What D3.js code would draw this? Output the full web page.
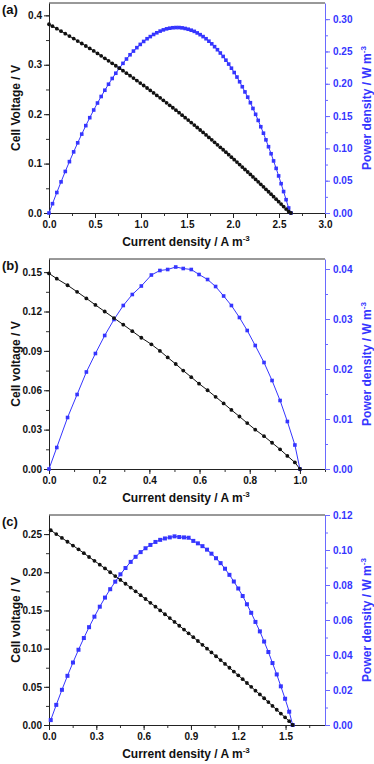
<!DOCTYPE html>
<html>
<head>
<meta charset="utf-8">
<script src="https://cdn.jsdelivr.net/npm/d3@7/dist/d3.min.js"></script>
<style>
body { margin: 0; background: #fff; }
svg { display: block; font-family: "Liberation Sans", Arial, sans-serif; font-weight: bold; }
</style>
</head>
<body>
<script>
// panel (a) data
var aCurrent = [0, 0.038, 0.085, 0.131, 0.177, 0.222, 0.268, 0.312, 0.356, 0.400, 0.443, 0.486, 0.527, 0.567, 0.607, 0.647, 0.687,
    0.726, 0.765, 0.804, 0.842, 0.881, 0.918, 0.955, 0.992, 1.029, 1.066, 1.101, 1.137, 1.172, 1.208, 1.243,
    1.278, 1.312, 1.346, 1.380, 1.414, 1.447, 1.480, 1.513, 1.546, 1.579, 1.611, 1.643, 1.675, 1.707, 1.738,
    1.769, 1.800, 1.831, 1.862, 1.893, 1.923, 1.953, 1.983, 2.013, 2.043, 2.072, 2.101, 2.130, 2.160, 2.189,
    2.217, 2.246, 2.274, 2.302, 2.331, 2.358, 2.386, 2.414, 2.441, 2.469, 2.496, 2.523, 2.550, 2.577, 2.605, 2.630];
var aVoltage = [0.382, 0.378, 0.373, 0.368, 0.363, 0.358, 0.353, 0.348, 0.343, 0.338, 0.333, 0.328, 0.323, 0.318, 0.313, 0.308, 0.303,
    0.298, 0.293, 0.288, 0.283, 0.278, 0.273, 0.268, 0.263, 0.258, 0.253, 0.248, 0.243, 0.238, 0.233, 0.228,
    0.223, 0.218, 0.213, 0.208, 0.203, 0.198, 0.193, 0.188, 0.183, 0.178, 0.173, 0.168, 0.163, 0.158, 0.153,
    0.148, 0.143, 0.138, 0.133, 0.128, 0.123, 0.118, 0.113, 0.108, 0.103, 0.098, 0.093, 0.088, 0.083, 0.078,
    0.073, 0.068, 0.063, 0.058, 0.053, 0.048, 0.043, 0.038, 0.033, 0.028, 0.023, 0.018, 0.013, 0.008, 0.003, 0];
var aPower = [0, 0.0144, 0.0317, 0.0482, 0.0643, 0.0795, 0.0946, 0.1086, 0.1221, 0.1352, 0.1475, 0.1594, 0.1702, 0.1803, 0.1900, 0.1993, 0.2082,
    0.2163, 0.2241, 0.2316, 0.2383, 0.2449, 0.2506, 0.2559, 0.2609, 0.2655, 0.2697, 0.2730, 0.2763, 0.2789, 0.2815, 0.2834,
    0.2850, 0.2860, 0.2867, 0.2870, 0.2870, 0.2865, 0.2856, 0.2844, 0.2829, 0.2811, 0.2787, 0.2760, 0.2730, 0.2697, 0.2659,
    0.2618, 0.2574, 0.2527, 0.2476, 0.2423, 0.2365, 0.2305, 0.2241, 0.2174, 0.2104, 0.2031, 0.1954, 0.1874, 0.1793, 0.1707,
    0.1618, 0.1527, 0.1433, 0.1335, 0.1235, 0.1132, 0.1026, 0.0917, 0.0806, 0.0691, 0.0574, 0.0454, 0.0332, 0.0206, 0.0078, 0];

// panel (b) data
var bCurrent = [0, 0.031, 0.074, 0.112, 0.149, 0.185, 0.222, 0.259, 0.296, 0.332, 0.368, 0.408, 0.442, 0.473, 0.505, 0.535,
    0.567, 0.598, 0.632, 0.664, 0.696, 0.727, 0.759, 0.790, 0.822, 0.857, 0.889, 0.921, 0.950, 0.980, 1.000];
var bVoltage = [0.149, 0.145, 0.140, 0.135, 0.130, 0.125, 0.120, 0.115, 0.110, 0.105, 0.100, 0.095, 0.090, 0.085, 0.080, 0.075,
    0.070, 0.065, 0.060, 0.055, 0.050, 0.045, 0.040, 0.035, 0.030, 0.025, 0.020, 0.015, 0.010, 0.005, 0];
var bPower = [0, 0.0043, 0.0103, 0.0149, 0.0194, 0.0231, 0.0267, 0.0299, 0.0327, 0.0349, 0.0366, 0.0388, 0.0397, 0.0399, 0.0404, 0.0401,
    0.0399, 0.0389, 0.0379, 0.0365, 0.0346, 0.0327, 0.0303, 0.0277, 0.0247, 0.0213, 0.0177, 0.0137, 0.0095, 0.0048, 0];

// panel (c) data
var cCurrent = [0.011, 0.046, 0.082, 0.117, 0.152, 0.187, 0.221, 0.254, 0.288, 0.322, 0.355, 0.388, 0.420, 0.453, 0.485, 0.518,
    0.549, 0.581, 0.612, 0.643, 0.675, 0.705, 0.735, 0.766, 0.796, 0.826, 0.856, 0.885, 0.915, 0.944, 0.973,
    1.002, 1.030, 1.059, 1.088, 1.116, 1.144, 1.172, 1.200, 1.228, 1.255, 1.282, 1.309, 1.337, 1.364, 1.391,
    1.417, 1.444, 1.470, 1.497, 1.523, 1.545];
var cVoltage = [0.255, 0.250, 0.245, 0.240, 0.235, 0.230, 0.225, 0.220, 0.215, 0.210, 0.205, 0.200, 0.195, 0.190, 0.185, 0.180,
    0.175, 0.170, 0.165, 0.160, 0.155, 0.150, 0.145, 0.140, 0.135, 0.130, 0.125, 0.120, 0.115, 0.110, 0.105,
    0.100, 0.095, 0.090, 0.085, 0.080, 0.075, 0.070, 0.065, 0.060, 0.055, 0.050, 0.045, 0.040, 0.035, 0.030,
    0.025, 0.020, 0.015, 0.010, 0.005, 0];
var cPower = [0.0028, 0.0115, 0.0201, 0.0281, 0.0357, 0.0430, 0.0497, 0.0559, 0.0619, 0.0676, 0.0728, 0.0776, 0.0819, 0.0861, 0.0897, 0.0932,
    0.0961, 0.0988, 0.1010, 0.1029, 0.1046, 0.1058, 0.1066, 0.1072, 0.1078, 0.1074, 0.1072, 0.1070, 0.1052, 0.1038, 0.1022,
    0.1002, 0.0979, 0.0953, 0.0925, 0.0893, 0.0858, 0.0820, 0.0780, 0.0737, 0.0690, 0.0641, 0.0589, 0.0535, 0.0477, 0.0417,
    0.0354, 0.0289, 0.0221, 0.0150, 0.0076, 0];

// tick values
var aXTicks = [0, 0.5, 1.0, 1.5, 2.0, 2.5, 3.0];
var aVTicks = [0, 0.1, 0.2, 0.3, 0.4];
var aPTicks = [0, 0.05, 0.10, 0.15, 0.20, 0.25, 0.30];
var bXTicks = [0, 0.2, 0.4, 0.6, 0.8, 1.0];
var bVTicks = [0, 0.03, 0.06, 0.09, 0.12, 0.15];
var bPTicks = [0, 0.01, 0.02, 0.03, 0.04];
var cXTicks = [0, 0.3, 0.6, 0.9, 1.2, 1.5];
var cVTicks = [0, 0.05, 0.10, 0.15, 0.20, 0.25];
var cPTicks = [0, 0.02, 0.04, 0.06, 0.08, 0.10, 0.12];

var width = 374, height = 764;
var blue = "#3535ff";

var svg = d3.select("body").append("svg")
    .attr("width", width)
    .attr("height", height);

var panels = [
    {tag: "(a)", top: 3, bottom: 213, I: aCurrent, V: aVoltage, P: aPower,
     xMax: 3.0, vMax: 0.425, pMax: 0.325, xTicks: aXTicks, vTicks: aVTicks, pTicks: aPTicks,
     xFmt: ".1f", vFmt: ".1f", pFmt: ".2f", vTitle: "Cell Voltage / V", sq: 3.6},
    {tag: "(b)", top: 259, bottom: 469, I: bCurrent, V: bVoltage, P: bPower,
     xMax: 1.1, vMax: 0.16, pMax: 0.042, xTicks: bXTicks, vTicks: bVTicks, pTicks: bPTicks,
     xFmt: ".1f", vFmt: ".2f", pFmt: ".2f", vTitle: "Cell voltage / V", sq: 3.6},
    {tag: "(c)", top: 515, bottom: 725, I: cCurrent, V: cVoltage, P: cPower,
     xMax: 1.75, vMax: 0.275, pMax: 0.12, xTicks: cXTicks, vTicks: cVTicks, pTicks: cPTicks,
     xFmt: ".1f", vFmt: ".2f", pFmt: ".2f", vTitle: "Cell voltage / V", sq: 4}
];

var left = 49, right = 325;

// midpoints between labelled ticks become the minor ticks
function minors(ticks) {
    var out = [];
    for (var i = 0; i < ticks.length; i++) {
        out.push(ticks[i]);
        if (i < ticks.length - 1) out.push((ticks[i] + ticks[i + 1]) / 2);
    }
    return out;
}

panels.forEach(drawPanel);

function drawPanel(p) {
    var g = svg.append("g");
    var x = d3.scaleLinear().domain([0, p.xMax]).range([left, right]);
    var yV = d3.scaleLinear().domain([0, p.vMax]).range([p.bottom, p.top]);
    var yP = d3.scaleLinear().domain([0, p.pMax]).range([p.bottom, p.top]);

    var xMinor = minors(p.xTicks);
    if (p.tag === "(c)") xMinor.push(1.65);
    if (p.tag === "(b)") xMinor.push(1.1);

    // top border
    g.append("line").attr("x1", left).attr("x2", right).attr("y1", p.top).attr("y2", p.top)
        .attr("stroke", "#333").attr("stroke-width", 1);

    // minor ticks
    g.append("g").attr("transform", "translate(0," + p.bottom + ")")
        .call(d3.axisBottom(x).tickValues(xMinor).tickSize(3).tickFormat("").tickSizeOuter(0))
        .call(function(s){ s.select(".domain").remove(); s.selectAll("line").attr("stroke", "#333"); });
    g.append("g").attr("transform", "translate(" + left + ",0)")
        .call(d3.axisLeft(yV).tickValues(minors(p.vTicks)).tickSize(3).tickFormat("").tickSizeOuter(0))
        .call(function(s){ s.select(".domain").remove(); s.selectAll("line").attr("stroke", "#333"); });
    g.append("g").attr("transform", "translate(" + right + ",0)")
        .call(d3.axisRight(yP).tickValues(minors(p.pTicks)).tickSize(3).tickFormat("").tickSizeOuter(0))
        .call(function(s){ s.select(".domain").remove(); s.selectAll("line").attr("stroke", "#6a6aff"); });

    // major axes
    var xAx = g.append("g").attr("transform", "translate(0," + p.bottom + ")")
        .call(d3.axisBottom(x).tickValues(p.xTicks).tickFormat(d3.format(p.xFmt)).tickSize(5).tickPadding(3).tickSizeOuter(0));
    xAx.select(".domain").attr("stroke", "#222");
    xAx.selectAll("line").attr("stroke", "#222");
    xAx.selectAll("text").attr("font-size", 10).attr("font-weight", "bold").attr("fill", "#111")
        .attr("font-family", "Liberation Sans, Arial, sans-serif");

    var vAx = g.append("g").attr("transform", "translate(" + left + ",0)")
        .call(d3.axisLeft(yV).tickValues(p.vTicks).tickFormat(d3.format(p.vFmt)).tickSize(5).tickPadding(2).tickSizeOuter(0));
    vAx.select(".domain").attr("stroke", "#222");
    vAx.selectAll("line").attr("stroke", "#222");
    vAx.selectAll("text").attr("font-size", 10).attr("font-weight", "bold").attr("fill", "#111")
        .attr("font-family", "Liberation Sans, Arial, sans-serif");

    var pAx = g.append("g").attr("transform", "translate(" + right + ",0)")
        .call(d3.axisRight(yP).tickValues(p.pTicks).tickFormat(d3.format(p.pFmt)).tickSize(5).tickPadding(3).tickSizeOuter(0));
    pAx.select(".domain").attr("stroke", "#6a6aff");
    pAx.selectAll("line").attr("stroke", "#6a6aff");
    pAx.selectAll("text").attr("font-size", 10).attr("font-weight", "bold").attr("fill", blue)
        .attr("font-family", "Liberation Sans, Arial, sans-serif");

    // titles
    var xt = g.append("text").attr("x", 186).attr("y", p.bottom + 33)
        .attr("text-anchor", "middle").attr("font-size", 12).attr("fill", "#111")
        .text("Current density / A m");
    xt.append("tspan").attr("dy", -5).attr("font-size", 8).text("-3");

    var mid = (p.top + p.bottom) / 2;
    g.append("text").attr("transform", "translate(20," + mid + ") rotate(-90)")
        .attr("text-anchor", "middle").attr("font-size", 12).attr("fill", "#111")
        .text(p.vTitle);

    var pt = g.append("text").attr("transform", "translate(371," + mid + ") rotate(-90)")
        .attr("text-anchor", "middle").attr("font-size", 12).attr("fill", blue)
        .text("Power density / W m");
    pt.append("tspan").attr("dy", -5).attr("font-size", 8).text("-3");

    g.append("text").attr("x", 2).attr("y", p.top + 11).attr("font-size", 13).attr("fill", "#111")
        .text(p.tag);

    var idx = d3.range(p.I.length);

    // power density series
    var lineP = d3.line().x(function(i){ return x(p.I[i]); }).y(function(i){ return yP(p.P[i]); });
    g.append("path").datum(idx).attr("d", lineP)
        .attr("fill", "none").attr("stroke", blue).attr("stroke-width", 1);
    g.selectAll(".sq").data(idx).enter().append("rect")
        .attr("class", "sq")
        .attr("x", function(i){ return x(p.I[i]) - p.sq / 2; })
        .attr("y", function(i){ return yP(p.P[i]) - p.sq / 2; })
        .attr("width", p.sq).attr("height", p.sq)
        .attr("fill", blue);

    // cell voltage series
    var lineV = d3.line().x(function(i){ return x(p.I[i]); }).y(function(i){ return yV(p.V[i]); });
    g.append("path").datum(idx).attr("d", lineV)
        .attr("fill", "none").attr("stroke", "#111").attr("stroke-width", 1);
    g.selectAll(".dot").data(idx).enter().append("circle")
        .attr("class", "dot")
        .attr("cx", function(i){ return x(p.I[i]); })
        .attr("cy", function(i){ return yV(p.V[i]); })
        .attr("r", 1.9)
        .attr("fill", "#111");
}
</script>
</body>
</html>
